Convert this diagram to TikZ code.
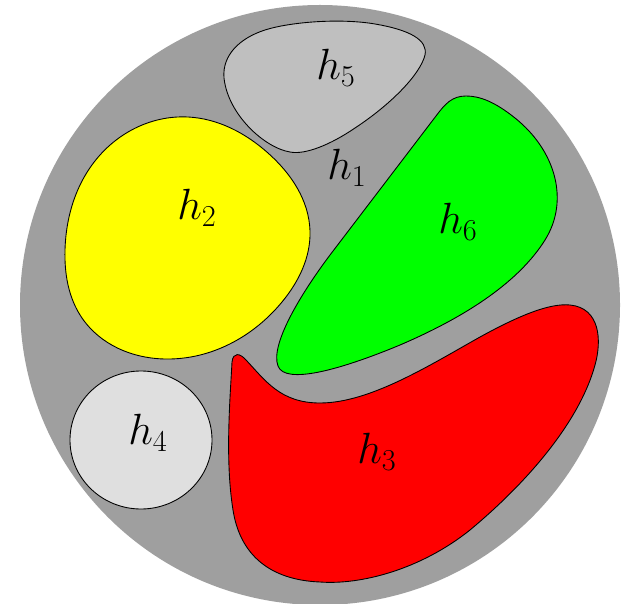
\documentclass[tikz,border=0pt]{standalone}
\usetikzlibrary{hobby}
\definecolor{hyellow}{rgb}{1,1,0}
\definecolor{hgreen}{rgb}{0,1,0}
\definecolor{hred}{rgb}{1,0,0}
\begin{document}
\begin{tikzpicture}[x=0.02cm, y=-0.02cm,
  blob/.style={draw=black, line width=0.5pt},
  lbl/.style={font=\fontsize{27}{30}\selectfont}]
  % picture frame (pixel units, y downwards)
  \useasboundingbox (0,0) rectangle (621,604);
  \clip (0,0) rectangle (621,604);

  % 1. outer disc h1
  \fill[gray!75] (320,305) circle[radius=300];

  % 2. h5 (top, light gray)
  \draw[blob, fill=lightgray] (224,78)
    .. controls (222,55) and (240,38) .. (265,30)
    .. controls (290,22) and (340,18) .. (375,24)
    .. controls (410,30) and (428,40) .. (425,55)
    .. controls (420,75) and (390,105) .. (355,128)
    .. controls (330,145) and (305,155) .. (290,152)
    .. controls (265,148) and (228,115) .. (224,78) -- cycle;

  % 3. h2 (left, yellow)
  \draw[blob, fill=hyellow, use Hobby shortcut, closed=true] (188,117)
    .. (268,153) .. (310,231) .. (282,302) .. (165,359) .. (82,318)
    .. (65,250) .. (100,155);

  % 4. h6 (right, green)
  \draw[blob, fill=hgreen] (466,96)
    .. controls (452,96) and (445,104) .. (436,116) -- (330,255)
    .. controls (300,295) and (270,345) .. (278,366)
    .. controls (285,385) and (340,370) .. (400,345)
    .. controls (470,315) and (520,280) .. (545,240)
    .. controls (570,200) and (555,150) .. (515,118)
    .. controls (495,102) and (480,96) .. (466,96) -- cycle;

  % 5. h3 (bottom, red)
  \draw[blob, fill=hred] (232,362)
    .. controls (233,352) and (240,353) .. (246,360)
    .. controls (265,380) and (280,403) .. (320,403)
    .. controls (370,403) and (430,365) .. (480,337)
    .. controls (520,315) and (550,303) .. (570,305)
    .. controls (600,308) and (602,340) .. (595,365)
    .. controls (580,420) and (530,480) .. (470,530)
    .. controls (420,570) and (360,585) .. (320,582)
    .. controls (270,580) and (240,555) .. (233,510)
    .. controls (225,460) and (230,400) .. (232,362) -- cycle;

  % 6. h4 (bottom left, pale gray)
  \draw[blob, fill=gray!25] (141,440) ellipse[x radius=71, y radius=69];

  % 7. labels
  \node[lbl] (l1) at (347,168) {$h_1$};
  \node[lbl] (l2) at (197,208) {$h_2$};
  \node[lbl] (l3) at (377,452) {$h_3$};
  \node[lbl] (l4) at (148,433) {$h_4$};
  \node[lbl] (l5) at (336,68) {$h_5$};
  \node[lbl] (l6) at (458,222) {$h_6$};
\end{tikzpicture}
\end{document}
